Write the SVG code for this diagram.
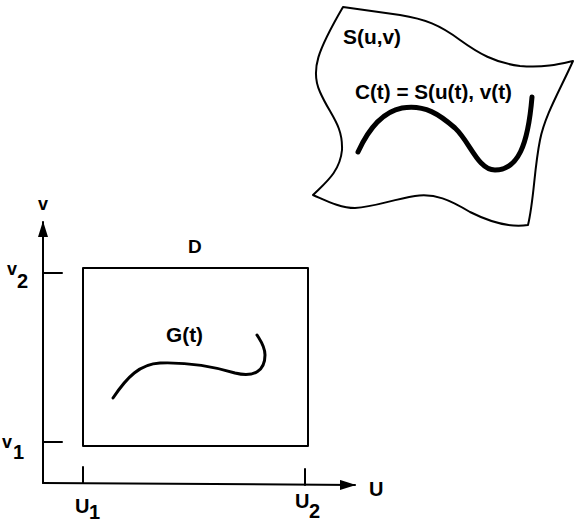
<svg xmlns="http://www.w3.org/2000/svg" width="575" height="523" viewBox="0 0 575 523">
<style>
.ln{fill:none;stroke:#000;stroke-width:2;stroke-linejoin:round;stroke-linecap:round}
.thick{fill:none;stroke:#000;stroke-width:5;stroke-linecap:round}
.mid{fill:none;stroke:#000;stroke-width:3;stroke-linecap:round}
.t{font-family:"Liberation Sans",Arial,Helvetica,sans-serif;font-weight:bold;fill:#000}
</style>
<defs>
<marker id="arr" viewBox="0 0 16 10" refX="15" refY="5" markerWidth="16" markerHeight="10" markerUnits="userSpaceOnUse" orient="auto">
<path d="M0,0 L16,5 L0,10 Z" fill="#000"/>
</marker>
</defs>
<rect width="575" height="523" fill="#fff"/>
<g id="surface">
<path class="ln" d="M343,7 L400,15 C425,19 440,25 460,40 C478,53 495,63 520,66 C545,68 560,64 573,61 C560,90 545,115 540,140 C534,170 534,200 528,225 C510,228 490,222 470,212 C450,200 435,193 415,196 C390,200 375,207 355,208 C340,208 325,200 313,195 C325,183 340,172 342,150 C343,125 330,115 320,92 C310,70 318,50 343,7 Z"/>
<path class="thick" d="M358,152 C368,130 382,112 402,108 C425,104 440,115 455,128 C470,142 478,170 495,170 C518,170 528,145 532,97"/>
<text class="t" x="343" y="44" font-size="21" textLength="58" lengthAdjust="spacingAndGlyphs">S(u,v)</text>
<text class="t" x="355" y="99" font-size="20" textLength="157" lengthAdjust="spacingAndGlyphs">C(t) = S(u(t), v(t)</text>
</g>
<g id="axes">
<line class="ln" x1="43" y1="483" x2="43" y2="222" marker-end="url(#arr)"/>
<line class="ln" x1="43" y1="483" x2="355" y2="485" marker-end="url(#arr)"/>
<line class="ln" x1="43" y1="273" x2="62" y2="273"/>
<line class="ln" x1="43" y1="442" x2="62" y2="442"/>
<line class="ln" x1="83" y1="467" x2="83" y2="483"/>
<line class="ln" x1="305" y1="469" x2="305" y2="485"/>
<text class="t" x="43" y="210" font-size="18" text-anchor="middle">v</text>
<text class="t" x="369" y="496" font-size="20">U</text>
<text class="t" x="7" y="275" font-size="18">v</text>
<text class="t" x="17" y="288" font-size="20">2</text>
<text class="t" x="2" y="448" font-size="18">v</text>
<text class="t" x="13" y="459" font-size="20">1</text>
<text class="t" x="75" y="513" font-size="20">U</text>
<text class="t" x="89" y="519" font-size="20">1</text>
<text class="t" x="295" y="508" font-size="20">U</text>
<text class="t" x="309" y="518" font-size="20">2</text>
</g>
<g id="domain">
<rect class="ln" x="83" y="268" width="225" height="178" stroke-linejoin="miter"/>
<path class="mid" d="M113,398 C127,377 140,364 160,363 C190,362 215,367 235,373 C255,378 265,370 265,355 C265,346 260,340 257,335"/>
<text class="t" x="188" y="253" font-size="19">D</text>
<text class="t" x="166" y="342" font-size="20" textLength="37" lengthAdjust="spacingAndGlyphs">G(t)</text>
</g>
</svg>
